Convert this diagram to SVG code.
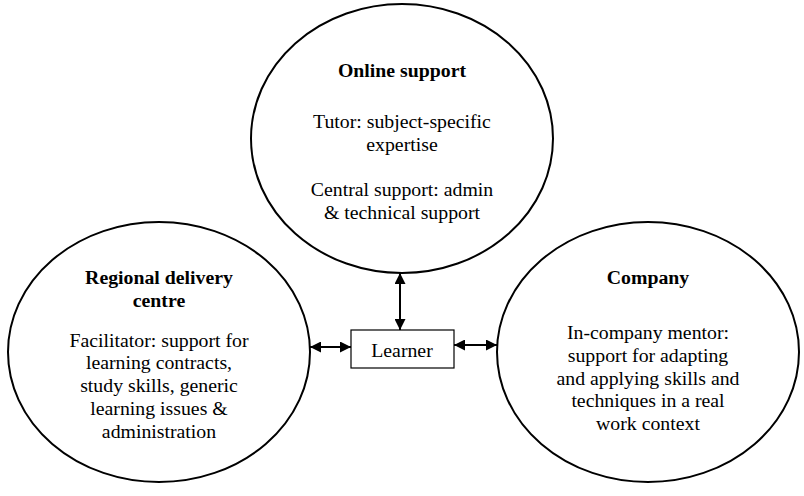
<svg xmlns="http://www.w3.org/2000/svg" width="804" height="496" viewBox="0 0 804 496">
<style>
.node{fill:#fff;stroke:#000;stroke-width:2}
.box{fill:#fff;stroke:#000;stroke-width:1.2}
text{font-family:'Liberation Serif','Times New Roman',Times,serif;font-size:19.8px;fill:#000;text-anchor:middle}
.t{font-weight:bold}
.conn{stroke:#000;stroke-width:2;fill:none;marker-start:url(#ah);marker-end:url(#ah)}
</style>
<defs>
<marker id="ah" viewBox="0 0 10 10" refX="10" refY="5" markerWidth="11" markerHeight="11" markerUnits="userSpaceOnUse" orient="auto-start-reverse">
<path d="M0,0 L10,5 L0,10 Z" fill="#000"/>
</marker>
</defs>
<rect width="804" height="496" fill="#fff"/>
<g id="online">
<ellipse class="node" cx="402" cy="138.5" rx="151" ry="134.5"/>
<text class="t" x="402" y="77">Online support</text>
<text x="402" y="128">Tutor: subject-specific</text>
<text x="402" y="151">expertise</text>
<text x="402" y="196">Central support: admin</text>
<text x="402" y="219">&amp; technical support</text>
</g>
<g id="regional">
<ellipse class="node" cx="159" cy="352" rx="151" ry="130"/>
<text class="t" x="159" y="284">Regional delivery</text>
<text class="t" x="159" y="307">centre</text>
<text x="159" y="347">Facilitator: support for</text>
<text x="159" y="369">learning contracts,</text>
<text x="159" y="392">study skills, generic</text>
<text x="159" y="415">learning issues &amp;</text>
<text x="159" y="438">administration</text>
</g>
<g id="company">
<ellipse class="node" cx="648" cy="352" rx="151" ry="130"/>
<text class="t" x="648" y="284">Company</text>
<text x="648" y="339">In-company mentor:</text>
<text x="648" y="362">support for adapting</text>
<text x="648" y="385">and applying skills and</text>
<text x="648" y="407">techniques in a real</text>
<text x="648" y="430">work context</text>
</g>
<g id="learner">
<rect class="box" x="351" y="330" width="103" height="38"/>
<text x="402" y="357">Learner</text>
</g>
<g id="connectors">
<line class="conn" x1="400" y1="273" x2="400" y2="330"/>
<line class="conn" x1="310" y1="347" x2="351" y2="347"/>
<line class="conn" x1="454" y1="345" x2="497" y2="345"/>
</g>
</svg>
